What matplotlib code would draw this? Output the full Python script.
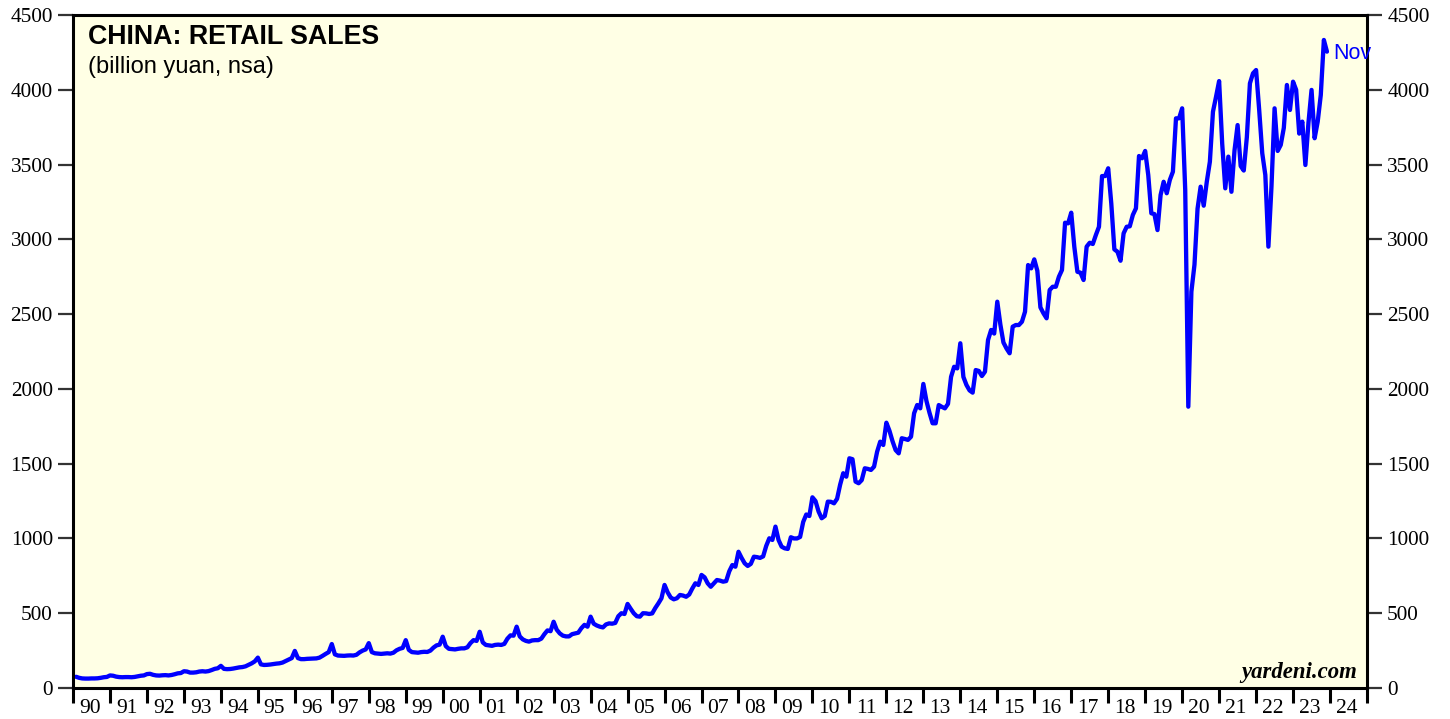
import matplotlib
matplotlib.use("Agg")
import matplotlib.pyplot as plt
import numpy as np

# China retail sales, billion yuan, nsa, monthly Jan..Dec
retail_1990s = [
    75, 68, 64, 63, 63, 64, 64, 65, 68, 72, 74, 84,            # 1990
    82, 76, 73, 72, 73, 73, 72, 74, 78, 82, 84, 93,            # 1991
    95, 88, 84, 83, 85, 86, 84, 87, 92, 98, 100, 112,          # 1992
    110, 103, 103, 105, 110, 112, 110, 113, 120, 128, 132, 148,  # 1993
    128, 126, 127, 130, 134, 138, 140, 145, 155, 165, 178, 203,  # 1994
    158, 154, 155, 157, 160, 163, 165, 170, 180, 190, 200, 248,  # 1995
    200, 193, 193, 195, 196, 197, 198, 203, 215, 228, 240, 294,  # 1996
    225, 217, 216, 215, 217, 218, 217, 222, 238, 250, 258, 300,  # 1997
    240, 232, 230, 228, 230, 232, 230, 236, 252, 262, 268, 320,  # 1998
    255, 240, 238, 236, 240, 242, 241, 250, 270, 285, 290, 343,  # 1999
]
retail_2000s = [
    280, 262, 260, 258, 262, 265, 265, 272, 300, 320, 315, 376,  # 2000
    305, 288, 285, 282, 288, 290, 288, 295, 330, 352, 350, 410,  # 2001
    345, 325, 315, 310, 318, 320, 320, 330, 360, 385, 380, 443,  # 2002
    390, 365, 350, 345, 345, 360, 365, 370, 400, 422, 410, 477,  # 2003
    430, 418, 410, 405, 425, 432, 430, 435, 480, 500, 495, 562,  # 2004
    530, 500, 480, 477, 500, 499, 495, 499, 535, 566, 600, 689,  # 2005
    640, 605, 593, 600, 622, 618, 610, 625, 665, 700, 689, 756,  # 2006
    740, 700, 677, 700, 722, 718, 711, 715, 780, 822, 811, 911,  # 2007
    870, 834, 816, 830, 878, 875, 870, 880, 950, 1001, 990, 1079,  # 2008
    990, 945, 934, 930, 1008, 1000, 1000, 1010, 1110, 1160, 1150, 1275,  # 2009
]
retail_2010s = [
    1250, 1180, 1135, 1150, 1246, 1245, 1235, 1265, 1360, 1436, 1413, 1536,  # 2010
    1530, 1380, 1369, 1390, 1469, 1465, 1458, 1480, 1580, 1647, 1625, 1774,  # 2011
    1720, 1650, 1591, 1569, 1670, 1665, 1659, 1680, 1837, 1892, 1870, 2033,  # 2012
    1920, 1840, 1770, 1770, 1892, 1880, 1870, 1900, 2081, 2148, 2137, 2305,  # 2013
    2080, 2026, 1990, 1975, 2126, 2120, 2086, 2115, 2327, 2394, 2370, 2583,  # 2014
    2430, 2310, 2270, 2238, 2416, 2427, 2427, 2449, 2516, 2828, 2806, 2866,  # 2015
    2790, 2545, 2505, 2472, 2661, 2683, 2683, 2750, 2795, 3111, 3107, 3178,  # 2016
    2950, 2783, 2777, 2728, 2951, 2977, 2969, 3029, 3084, 3423, 3423, 3475,  # 2017
    3240, 2933, 2917, 2857, 3040, 3084, 3087, 3163, 3207, 3557, 3542, 3591,  # 2018
    3430, 3174, 3169, 3062, 3296, 3385, 3308, 3397, 3452, 3809, 3809, 3876,  # 2019
]
retail_2020s = [
    3330, 1881, 2650, 2830, 3205, 3352, 3225, 3385, 3519, 3853, 3953, 4058,  # 2020
    3640, 3341, 3553, 3318, 3595, 3764, 3490, 3460, 3683, 4043, 4110, 4132,  # 2021
    3867, 3576, 3430, 2951, 3355, 3876, 3591, 3631, 3745, 4032, 3865, 4054,  # 2022
    4000, 3707, 3787, 3497, 3780, 3999, 3676, 3787, 3965, 4333, 4255,        # 2023 (to Nov)
]
first_year = 1990
year_labels = ["%02d" % (y % 100) for y in range(1990, 2025)]
y_ticks = [0, 500, 1000, 1500, 2000, 2500, 3000, 3500, 4000, 4500]
last_label = "Nov"
title = "CHINA: RETAIL SALES"
subtitle = "(billion yuan, nsa)"
source = "yardeni.com"

values = retail_1990s + retail_2000s + retail_2010s + retail_2020s
t = first_year + (np.arange(len(values)) + 1) / 12.0

plt.rcParams['font.family'] = ['Liberation Serif', 'DejaVu Serif']
SANS = ['Liberation Sans', 'DejaVu Sans']

W, H = 1450, 719
fig = plt.figure(figsize=(W / 100, H / 100), dpi=100)
fig.patch.set_facecolor('white')
ax = fig.add_axes([73 / W, 1 - 688 / H, (1367 - 73) / W, (688 - 15) / H])
ax.set_facecolor('#FFFFE5')

ax.plot(t, values, color='#0000FF', lw=3.1, solid_joinstyle='round',
        solid_capstyle='round')

ax.set_xlim(1990, 2025)
ax.set_ylim(0, 4500)

# y axis ticks both sides
ax.set_yticks(y_ticks)
ax.set_yticklabels([str(v) for v in y_ticks])
ax.tick_params(axis='y', which='major', left=True, right=True,
               labelleft=True, labelright=True, direction='out',
               length=10.5, width=1.6, color='#333333', labelsize=15.3,
               pad=4, labelcolor='black')

# x axis: year ticks (no labels) + labels between ticks
years = np.arange(1990, 2026)
ax.set_xticks(years)
ax.set_xticklabels([''] * len(years))
ax.set_xticks(np.arange(1990, 2025) + 0.45, minor=True)
ax.set_xticklabels(year_labels, minor=True)
ax.tick_params(axis='x', which='major', direction='out', length=10.8,
               width=2.2, color='black', bottom=True, top=False)
ax.tick_params(axis='x', which='minor', length=0, labelsize=15.5, pad=8.0)

for s in ax.spines.values():
    s.set_linewidth(2.2)
    s.set_color('black')

ax.annotate(last_label, xy=(t[-1], values[-1]), xytext=(4.5, -1.5),
            textcoords='offset points', ha='left', va='center',
            color='#0000FF', fontsize=15.5, family=SANS)

fig.text(88 / W, 1 - 43.5 / H, title, ha='left', va='baseline',
         fontsize=19.3, fontweight='bold', family=SANS)
fig.text(88 / W, 1 - 73 / H, subtitle, ha='left', va='baseline',
         fontsize=17, family=SANS)
fig.text(1357 / W, 1 - 678 / H, source, ha='right', va='baseline',
         fontsize=16.4, fontweight='bold', fontstyle='italic',
         family=['Liberation Serif', 'DejaVu Serif'])

fig.savefig('out.png', dpi=100, facecolor='white')
